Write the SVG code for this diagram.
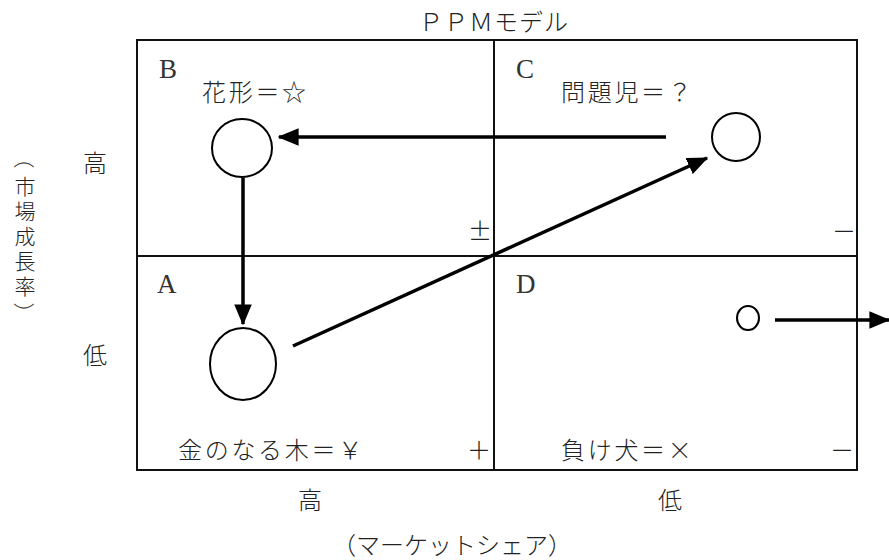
<svg xmlns="http://www.w3.org/2000/svg" width="889" height="560" viewBox="0 0 889 560">
<style>
.t{font-family:"Noto Sans CJK JP","Liberation Serif",sans-serif;font-size:24px;fill:#222;font-weight:300}
.q{letter-spacing:2.7px}
.l{font-family:"Liberation Serif",serif;font-size:27px;fill:#333}
.v{text-anchor:middle;dominant-baseline:central;font-size:21px}
.grid{fill:none;stroke:#111;stroke-width:2}
.c{fill:#fff;stroke:#000;stroke-width:2}
.a{stroke:#000;stroke-width:3.5;fill:none}
</style>
<defs>
<marker id="ah" markerWidth="6" markerHeight="5" refX="5.6" refY="2.5" orient="auto" markerUnits="strokeWidth">
<path d="M0,0 L6,2.5 L0,5 Z" fill="#000"/>
</marker>
</defs>
<rect width="889" height="560" fill="#fff"/>
<text class="t" x="494" y="31" text-anchor="middle" font-size="23" letter-spacing="1">ＰＰＭモデル</text>
<g id="grid">
<rect class="grid" x="137" y="40" width="720" height="430"/>
<line class="grid" x1="494" y1="40" x2="494" y2="470"/>
<line class="grid" x1="137" y1="256" x2="857" y2="256"/>
</g>
<g id="quadB">
<text class="l" x="159" y="78">B</text>
<text class="t q" x="202" y="101">花形＝☆</text>
</g>
<g id="quadC">
<text class="l" x="516" y="78">C</text>
<text class="t q" x="561" y="101">問題児＝？</text>
<text class="t" x="468" y="240">±</text>
<text class="t" x="832" y="240">－</text>
</g>
<g id="quadA">
<text class="l" x="157" y="293">A</text>
<text class="t q" x="178" y="459">金のなる木＝￥</text>
<text class="t" x="467" y="459">＋</text>
</g>
<g id="quadD">
<text class="l" x="516" y="293">D</text>
<text class="t q" x="561" y="459">負け犬＝×</text>
<text class="t" x="830" y="459">－</text>
</g>
<g id="star"><ellipse class="c" cx="242" cy="148" rx="30" ry="29"/></g>
<g id="problem"><circle class="c" cx="736" cy="137" r="24"/></g>
<g id="cow"><ellipse class="c" cx="243" cy="364" rx="33" ry="36"/></g>
<g id="dog"><ellipse class="c" cx="748" cy="318" rx="11" ry="12"/></g>
<g id="connectors">
<line class="a" x1="666" y1="137" x2="279" y2="137" marker-end="url(#ah)"/>
<line class="a" x1="243" y1="178" x2="243" y2="324" marker-end="url(#ah)"/>
<line class="a" x1="293" y1="346" x2="707" y2="158" marker-end="url(#ah)"/>
<line class="a" x1="775" y1="320" x2="889" y2="320" marker-end="url(#ah)"/>
</g>
<g id="axes">
<text class="t" x="95" y="172" text-anchor="middle">高</text>
<text class="t" x="95" y="364" text-anchor="middle">低</text>
<text class="t v" x="25" y="158" transform="rotate(90 25 158)">（</text>
<text class="t v" x="25" y="185">市</text>
<text class="t v" x="25" y="210">場</text>
<text class="t v" x="25" y="235">成</text>
<text class="t v" x="25" y="260">長</text>
<text class="t v" x="25" y="285">率</text>
<text class="t v" x="25" y="313" transform="rotate(90 25 313)">）</text>
<text class="t" x="310" y="509" text-anchor="middle">高</text>
<text class="t" x="670" y="509" text-anchor="middle">低</text>
<text class="t" x="452" y="554" text-anchor="middle" font-size="22">（マーケットシェア）</text>
</g>
</svg>
